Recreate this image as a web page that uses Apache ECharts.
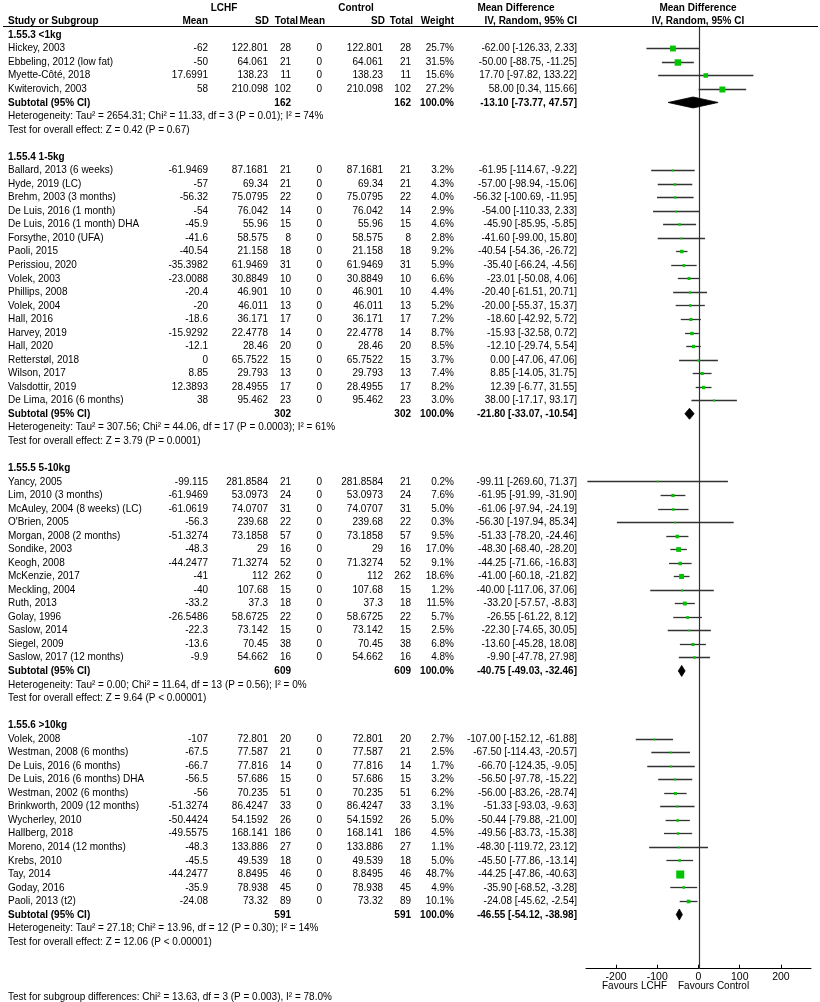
<!DOCTYPE html>
<html>
<head>
<meta charset="utf-8">
<script src="https://cdn.jsdelivr.net/npm/echarts@6/dist/echarts.min.js"></script>
<style>html,body{margin:0;padding:0;background:#fff;}#c{width:820px;height:1002px;}</style>
</head>
<body>
<div id="c"></div>
<script>
// ---------- DATA ----------
const groupTitles = ['1.55.3 <1kg', '1.55.4 1-5kg', '1.55.5 5-10kg', '1.55.6 >10kg'];
const groupTotalLCHF = [162, 302, 609, 591];
const groupTotalCtrl = [162, 302, 609, 591];
const groupMD = [-13.10, -21.80, -40.75, -46.55];
const groupLo = [-73.77, -33.07, -49.03, -54.12];
const groupHi = [47.57, -10.54, -32.46, -38.98];
const groupHet = [
  'Heterogeneity: Tau² = 2654.31; Chi² = 11.33, df = 3 (P = 0.01); I² = 74%',
  'Heterogeneity: Tau² = 307.56; Chi² = 44.06, df = 17 (P = 0.0003); I² = 61%',
  'Heterogeneity: Tau² = 0.00; Chi² = 11.64, df = 13 (P = 0.56); I² = 0%',
  'Heterogeneity: Tau² = 27.18; Chi² = 13.96, df = 12 (P = 0.30); I² = 14%'
];
const groupOverall = [
  'Test for overall effect: Z = 0.42 (P = 0.67)',
  'Test for overall effect: Z = 3.79 (P = 0.0001)',
  'Test for overall effect: Z = 9.64 (P < 0.00001)',
  'Test for overall effect: Z = 12.06 (P < 0.00001)'
];

const studyGroup = [
  0,0,0,0,
  1,1,1,1,1,1,1,1,1,1,1,1,1,1,1,1,1,1,
  2,2,2,2,2,2,2,2,2,2,2,2,2,2,
  3,3,3,3,3,3,3,3,3,3,3,3,3
];
const studyNames = [
  'Hickey, 2003', 'Ebbeling, 2012 (low fat)', 'Myette-Côté, 2018', 'Kwiterovich, 2003',
  'Ballard, 2013 (6 weeks)', 'Hyde, 2019 (LC)', 'Brehm, 2003 (3 months)', 'De Luis, 2016 (1 month)',
  'De Luis, 2016 (1 month) DHA', 'Forsythe, 2010 (UFA)', 'Paoli, 2015', 'Perissiou, 2020',
  'Volek, 2003', 'Phillips, 2008', 'Volek, 2004', 'Hall, 2016', 'Harvey, 2019', 'Hall, 2020',
  'Retterstøl, 2018', 'Wilson, 2017', 'Valsdottir, 2019', 'De Lima, 2016 (6 months)',
  'Yancy, 2005', 'Lim, 2010 (3 months)', 'McAuley, 2004 (8 weeks) (LC)', "O'Brien, 2005",
  'Morgan, 2008 (2 months)', 'Sondike, 2003', 'Keogh, 2008', 'McKenzie, 2017', 'Meckling, 2004',
  'Ruth, 2013', 'Golay, 1996', 'Saslow, 2014', 'Siegel, 2009', 'Saslow, 2017 (12 months)',
  'Volek, 2008', 'Westman, 2008 (6 months)', 'De Luis, 2016 (6 months)', 'De Luis, 2016 (6 months) DHA',
  'Westman, 2002 (6 months)', 'Brinkworth, 2009 (12 months)', 'Wycherley, 2010', 'Hallberg, 2018',
  'Moreno, 2014 (12 months)', 'Krebs, 2010', 'Tay, 2014', 'Goday, 2016', 'Paoli, 2013 (t2)'
];
const lchfMean = [
  -62, -50, 17.6991, 58,
  -61.9469, -57, -56.32, -54, -45.9, -41.6, -40.54, -35.3982, -23.0088, -20.4, -20, -18.6, -15.9292, -12.1, 0, 8.85, 12.3893, 38,
  -99.115, -61.9469, -61.0619, -56.3, -51.3274, -48.3, -44.2477, -41, -40, -33.2, -26.5486, -22.3, -13.6, -9.9,
  -107, -67.5, -66.7, -56.5, -56, -51.3274, -50.4424, -49.5575, -48.3, -45.5, -44.2477, -35.9, -24.08
];
const lchfSD = [
  '122.801', '64.061', '138.23', '210.098',
  '87.1681', '69.34', '75.0795', '76.042', '55.96', '58.575', '21.158', '61.9469', '30.8849', '46.901', '46.011', '36.171', '22.4778', '28.46', '65.7522', '29.793', '28.4955', '95.462',
  '281.8584', '53.0973', '74.0707', '239.68', '73.1858', '29', '71.3274', '112', '107.68', '37.3', '58.6725', '73.142', '70.45', '54.662',
  '72.801', '77.587', '77.816', '57.686', '70.235', '86.4247', '54.1592', '168.141', '133.886', '49.539', '8.8495', '78.938', '73.32'
];
const lchfN = [
  28, 21, 11, 102,
  21, 21, 22, 14, 15, 8, 18, 31, 10, 10, 13, 17, 14, 20, 15, 13, 17, 23,
  21, 24, 31, 22, 57, 16, 52, 262, 15, 18, 22, 15, 38, 16,
  20, 21, 14, 15, 51, 33, 26, 186, 27, 18, 46, 45, 89
];
const ctrlMean = lchfN.map(() => 0);
const ctrlSD = lchfSD.slice();
const ctrlN = lchfN.slice();
const weightPct = [
  25.7, 31.5, 15.6, 27.2,
  3.2, 4.3, 4.0, 2.9, 4.6, 2.8, 9.2, 5.9, 6.6, 4.4, 5.2, 7.2, 8.7, 8.5, 3.7, 7.4, 8.2, 3.0,
  0.2, 7.6, 5.0, 0.3, 9.5, 17.0, 9.1, 18.6, 1.2, 11.5, 5.7, 2.5, 6.8, 4.8,
  2.7, 2.5, 1.7, 3.2, 6.2, 3.1, 5.0, 4.5, 1.1, 5.0, 48.7, 4.9, 10.1
];
const mdVal = [
  -62.00, -50.00, 17.70, 58.00,
  -61.95, -57.00, -56.32, -54.00, -45.90, -41.60, -40.54, -35.40, -23.01, -20.40, -20.00, -18.60, -15.93, -12.10, 0.00, 8.85, 12.39, 38.00,
  -99.11, -61.95, -61.06, -56.30, -51.33, -48.30, -44.25, -41.00, -40.00, -33.20, -26.55, -22.30, -13.60, -9.90,
  -107.00, -67.50, -66.70, -56.50, -56.00, -51.33, -50.44, -49.56, -48.30, -45.50, -44.25, -35.90, -24.08
];
const ciLo = [
  -126.33, -88.75, -97.82, 0.34,
  -114.67, -98.94, -100.69, -110.33, -85.95, -99.00, -54.36, -66.24, -50.08, -61.51, -55.37, -42.92, -32.58, -29.74, -47.06, -14.05, -6.77, -17.17,
  -269.60, -91.99, -97.94, -197.94, -78.20, -68.40, -71.66, -60.18, -117.06, -57.57, -61.22, -74.65, -45.28, -47.78,
  -152.12, -114.43, -124.35, -97.78, -83.26, -93.03, -79.88, -83.73, -119.72, -77.86, -47.86, -68.52, -45.62
];
const ciHi = [
  2.33, -11.25, 133.22, 115.66,
  -9.22, -15.06, -11.95, 2.33, -5.85, 15.80, -26.72, -4.56, 4.06, 20.71, 15.37, 5.72, 0.72, 5.54, 47.06, 31.75, 31.55, 93.17,
  71.37, -31.90, -24.19, 85.34, -24.46, -28.20, -16.83, -21.82, 37.06, -8.83, 8.12, 30.05, 18.08, 27.98,
  -61.88, -20.57, -9.05, -15.22, -28.74, -9.63, -21.00, -15.38, 23.12, -13.14, -40.63, -3.28, -2.54
];
const xTickValues = [-200, -100, 0, 100, 200];
const subgroupTest = 'Test for subgroup differences: Chi² = 13.63, df = 3 (P = 0.003), I² = 78.0%';

// ---------- LAYOUT (rows) ----------
const studyRow = [];
const groupRow = [];
const subRow = [];
let r = 0;
for (let g = 0; g < groupTitles.length; g++) {
  groupRow.push(r); r++;
  studyGroup.forEach((sg, i) => { if (sg === g) { studyRow[i] = r; r++; } });
  subRow.push(r); r += 4;
}

const F = '"Liberation Sans", Arial, sans-serif';
const SY = 1.12;
const COL = { name: 8, mean: 208, sd: 268, n: 291, cmean: 322, csd: 383, cn: 411, w: 454, ci: 577 };
const texts = [];
function T(row, x, text, align, bold) { texts.push({ row, x, text: String(text), align: align || 'right', bold: !!bold }); }
const f2 = v => v.toFixed(2);
const ciText = (m, l, h) => f2(m) + ' [' + f2(l) + ', ' + f2(h) + ']';

T(-2, 224, 'LCHF', 'center', true);
T(-2, 356, 'Control', 'center', true);
T(-2, 516, 'Mean Difference', 'center', true);
T(-2, 698, 'Mean Difference', 'center', true);
T(-1, COL.name, 'Study or Subgroup', 'left', true);
T(-1, 208, 'Mean', 'right', true);
T(-1, 269, 'SD', 'right', true);
T(-1, 298, 'Total', 'right', true);
T(-1, 325, 'Mean', 'right', true);
T(-1, 385, 'SD', 'right', true);
T(-1, 413, 'Total', 'right', true);
T(-1, 454, 'Weight', 'right', true);
T(-1, 577, 'IV, Random, 95% CI', 'right', true);
T(-1, 698, 'IV, Random, 95% CI', 'center', true);

for (let g = 0; g < groupTitles.length; g++) {
  T(groupRow[g], COL.name, groupTitles[g], 'left', true);
  T(subRow[g], COL.name, 'Subtotal (95% CI)', 'left', true);
  T(subRow[g], COL.n, groupTotalLCHF[g], 'right', true);
  T(subRow[g], COL.cn, groupTotalCtrl[g], 'right', true);
  T(subRow[g], COL.w, '100.0%', 'right', true);
  T(subRow[g], COL.ci, ciText(groupMD[g], groupLo[g], groupHi[g]), 'right', true);
  T(subRow[g] + 1, COL.name, groupHet[g], 'left', false);
  T(subRow[g] + 2, COL.name, groupOverall[g], 'left', false);
}
studyNames.forEach((nm, i) => {
  const row = studyRow[i];
  T(row, COL.name, nm, 'left');
  T(row, COL.mean, lchfMean[i]);
  T(row, COL.sd, lchfSD[i]);
  T(row, COL.n, lchfN[i]);
  T(row, COL.cmean, ctrlMean[i]);
  T(row, COL.csd, ctrlSD[i]);
  T(row, COL.cn, ctrlN[i]);
  T(row, COL.w, weightPct[i].toFixed(1) + '%');
  T(row, COL.ci, ciText(mdVal[i], ciLo[i], ciHi[i]));
});

// ---------- CHART ----------
const chart = echarts.init(document.getElementById('c'), null, { renderer: 'canvas' });
const ROW_MIN = -2.571, ROW_MAX = 69;

function gText(x, y, text, align) {
  return { type: 'text', x, y, scaleY: SY, silent: true,
    style: { text, fill: '#000', font: '10px ' + F, align, verticalAlign: 'middle' } };
}

chart.setOption({
  animation: false,
  backgroundColor: '#fff',
  grid: { left: 586, right: 9, top: 0, bottom: 33.3, containLabel: false },
  xAxis: {
    type: 'value', min: -273, max: 273,
    axisLine: { show: true, onZero: false, lineStyle: { color: '#000', width: 1 } },
    axisTick: { show: true, inside: true, length: 4, customValues: xTickValues, lineStyle: { color: '#000' } },
    axisLabel: { show: true, customValues: xTickValues, margin: 3, color: '#000', fontSize: 10.5, fontFamily: F },
    splitLine: { show: false }
  },
  yAxis: {
    type: 'value', inverse: true, min: ROW_MIN, max: ROW_MAX,
    show: false, splitLine: { show: false }
  },
  series: [
    { // zero line
      type: 'custom', silent: true, clip: false,
      data: [[0, -0.58, ROW_MAX]],
      renderItem: (p, api) => {
        const a = api.coord([api.value(0), api.value(1)]);
        const b = api.coord([api.value(0), api.value(2)]);
        return { type: 'line', shape: { x1: Math.round(a[0]) + 0.5, y1: a[1], x2: Math.round(b[0]) + 0.5, y2: b[1] },
          style: { stroke: '#333', lineWidth: 1.2 } };
      }
    },
    { // studies
      type: 'custom', silent: true, clip: false,
      data: studyNames.map((_, i) => [mdVal[i], studyRow[i], ciLo[i], ciHi[i], weightPct[i]]),
      renderItem: (p, api) => {
        const row = api.value(1);
        const a = api.coord([api.value(2), row]);
        const b = api.coord([api.value(3), row]);
        const c = api.coord([api.value(0), row]);
        const y = Math.round(a[1]) + 0.5;
        const s = Math.max(1.8, 1.15 * Math.sqrt(api.value(4)));
        return { type: 'group', children: [
          { type: 'line', shape: { x1: a[0], y1: y, x2: b[0], y2: y }, style: { stroke: '#333', lineWidth: 1.3 } },
          { type: 'rect', shape: { x: c[0] - s / 2, y: y - s / 2, width: s, height: s }, style: { fill: '#00c400' } }
        ] };
      }
    },
    { // subtotal diamonds
      type: 'custom', silent: true, clip: false,
      data: groupMD.map((m, g) => [m, subRow[g], groupLo[g], groupHi[g]]),
      renderItem: (p, api) => {
        const row = api.value(1);
        const a = api.coord([api.value(2), row]);
        const b = api.coord([api.value(3), row]);
        const c = api.coord([api.value(0), row]);
        const h = 5.5;
        return { type: 'polygon', shape: { points: [[a[0], c[1]], [c[0], c[1] - h], [b[0], c[1]], [c[0], c[1] + h]] },
          style: { fill: '#000', stroke: '#000', lineWidth: 0.8 } };
      }
    },
    { // table text
      type: 'custom', silent: true, clip: false,
      data: texts.map(t => [0, t.row]),
      renderItem: (p, api) => {
        const t = texts[p.dataIndex];
        const pt = api.coord([0, api.value(1)]);
        return { type: 'text', x: t.x, y: pt[1], scaleY: SY,
          style: { text: t.text, fill: '#000', font: (t.bold ? 'bold ' : '') + '10px ' + F,
            align: t.align, verticalAlign: 'middle', textAlign: t.align, textVerticalAlign: 'middle' } };
      }
    }
  ],
  graphic: [
    { type: 'line', shape: { x1: 3, y1: 26.5, x2: 818, y2: 26.5 }, style: { stroke: '#000', lineWidth: 1 }, silent: true },
    gText(667, 986, 'Favours LCHF', 'right'),
    gText(678, 986, 'Favours Control', 'left'),
    gText(8, 997, subgroupTest, 'left')
  ]
});
</script>
</body>
</html>
